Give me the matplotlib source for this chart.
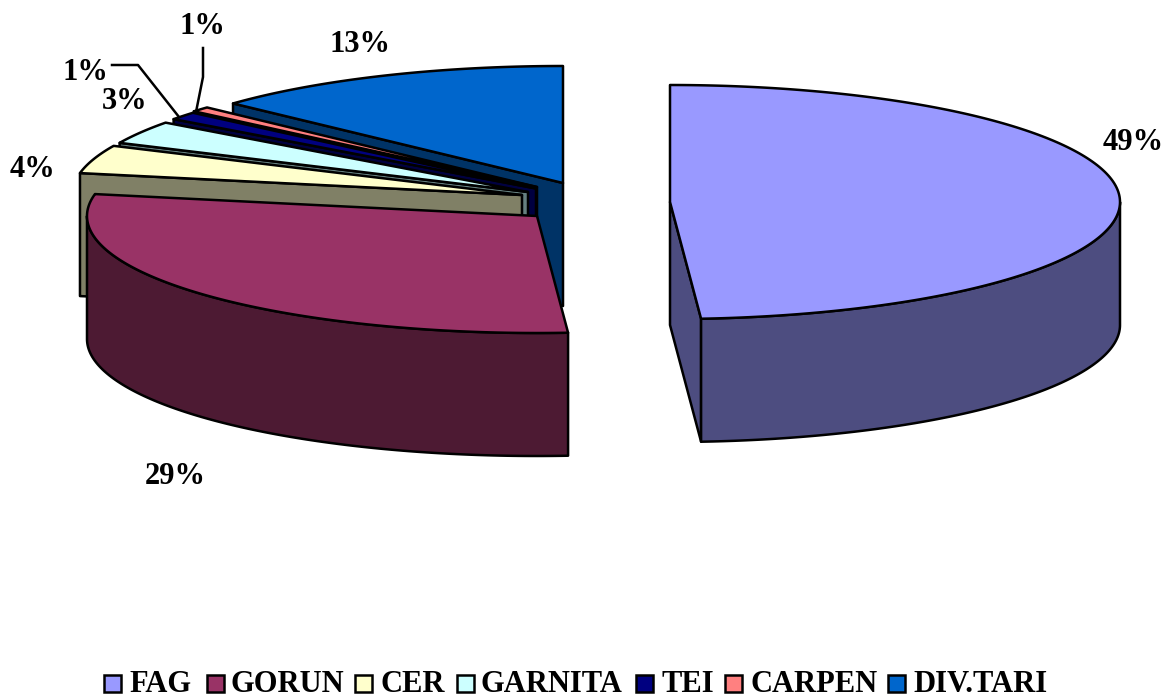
import numpy as np
import matplotlib
matplotlib.use("Agg")
import matplotlib.pyplot as plt
from matplotlib.patches import Polygon, Rectangle

categories = ["FAG", "GORUN", "CER", "GARNITA", "TEI", "CARPEN", "DIV.TARI"]
values = [48.9, 29.1, 3.9, 3.2, 1.1, 0.7, 13.1]
top_colors = ["#9999FF", "#993366", "#FFFFCC", "#CCFFFF", "#000080", "#FF8080", "#0066CC"]
side_colors = ["#4D4D80", "#4D1A33", "#808066", "#668080", "#000040", "#804040", "#003366"]

# layout (pixels)
apexes = [(670, 202), (537, 216), (522, 195), (528, 192), (536, 188.5), (537, 187), (563, 183)]
draw_order = [6, 5, 4, 3, 2, 0, 1]
RX, RY, DEPTH = 450, 117, 123
label_pos = [(1133, 142.5), (175, 476.5), (33, 169.5), (125, 101.5), (85, 72.5), (202, 26.5), (360, 44.5)]
leaders = {4: [(112, 65), (138, 65), (179, 117)], 5: [(203, 48), (203, 77), (196, 112)]}
legend_boxes = [104, 207, 355, 457, 636, 725, 888]
legend_text = [129, 231, 380, 481, 661, 750, 913]

plt.rcParams["font.family"] = ["Liberation Serif", "DejaVu Serif"]
fig = plt.figure(figsize=(11.68, 6.97), dpi=100)
ax = fig.add_axes([0, 0, 1, 1])
ax.set_xlim(0, 1168)
ax.set_ylim(697, 0)
ax.axis("off")

EDGE = dict(edgecolor="black", linewidth=1.8, joinstyle="round")


def rim(c, deg):
    t = np.radians(deg)
    return np.column_stack([c[0] + RX * np.sin(t), c[1] - RY * np.cos(t)])


total = sum(values)
bounds = np.concatenate([[0], np.cumsum(values) / total * 360])

for i in draw_order:
    c = np.array(apexes[i], float)
    a0, a1 = bounds[i], bounds[i + 1]
    down = np.array([0, DEPTH])
    p0 = rim(c, np.array([a0]))[0]
    p1 = rim(c, np.array([a1]))[0]
    # radial faces that look towards the viewer
    if a0 >= 180:
        ax.add_patch(Polygon([c, p0, p0 + down, c + down], facecolor=side_colors[i], **EDGE))
    if a1 <= 180:
        ax.add_patch(Polygon([c, p1, p1 + down, c + down], facecolor=side_colors[i], **EDGE))
    # curved outer wall
    lo, hi = max(a0, 90), min(a1, 270)
    if hi > lo:
        arc = rim(c, np.linspace(lo, hi, 120))
        ax.add_patch(Polygon(np.vstack([arc, (arc + down)[::-1]]), facecolor=side_colors[i], **EDGE))
    # top face
    arc = rim(c, np.linspace(a0, a1, 200))
    ax.add_patch(Polygon(np.vstack([[c], arc]), facecolor=top_colors[i], **EDGE))

for i, v in enumerate(values):
    ax.text(*label_pos[i], f"{round(v)}%", fontsize=22, fontweight="bold",
            ha="center", va="center", color="black")

for pts in leaders.values():
    xs, ys = zip(*pts)
    ax.plot(xs, ys, color="black", lw=1.8)

for i, name in enumerate(categories):
    ax.add_patch(Rectangle((legend_boxes[i], 675), 17, 17, facecolor=top_colors[i],
                           edgecolor="black", linewidth=1.8))
    ax.text(legend_text[i], 684, name, fontsize=22, fontweight="bold",
            ha="left", va="center", color="black")

fig.savefig("out.png", dpi=100, facecolor="white")
